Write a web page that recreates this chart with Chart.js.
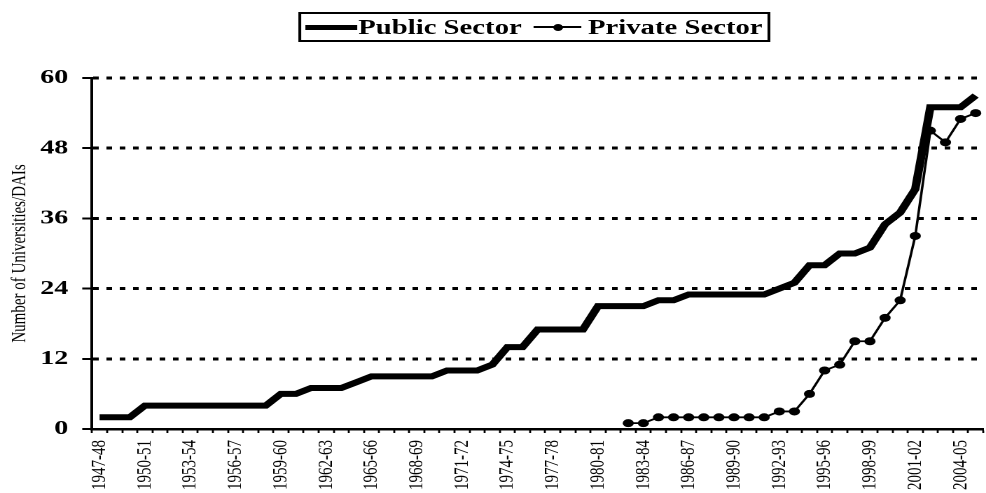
<!DOCTYPE html>
<html>
<head>
<meta charset="utf-8">
<script src="https://cdn.jsdelivr.net/npm/chart.js@4"></script>
<style>
  html, body { margin: 0; padding: 0; background: #fff; overflow: hidden; width: 986px; height: 493px; }
  #stage { position: absolute; left: 0; top: 0; width: 706px; height: 493px; transform: scaleX(1.4006); transform-origin: 0 0; }
  #chart { position: absolute; left: 0; top: 0; }
  #legend { position: absolute; left: 212.8px; top: 12px; width: 333px; height: 26px; border: 2px solid #000;
            font-family: "Liberation Serif", "Times New Roman", serif; font-weight: bold; font-size: 20.5px; color: #000; }
  #legend .txt { position: absolute; top: 0; line-height: 26px; white-space: nowrap; }
  #legend .ln { position: absolute; background: #000; }
  #legend .dot { position: absolute; background: #000; border-radius: 50%; }
</style>
</head>
<body>
<div id="stage">
  <canvas id="chart" width="706" height="493"></canvas>
  <div id="legend">
    <div class="ln" style="left:3px; top:10.5px; width:37px; height:5px;"></div>
    <div class="txt" style="left:41px;">Public Sector</div>
    <div class="ln" style="left:166px; top:12px; width:34px; height:2px;"></div>
    <div class="dot" style="left:180.3px; top:9.5px; width:7px; height:7px;"></div>
    <div class="txt" style="left:205px;">Private Sector</div>
  </div>
</div>
<script>
const years = ['1947-48','1948-49','1949-50','1950-51','1951-52','1952-53','1953-54','1954-55','1955-56','1956-57',
  '1957-58','1958-59','1959-60','1960-61','1961-62','1962-63','1963-64','1964-65','1965-66','1966-67',
  '1967-68','1968-69','1969-70','1970-71','1971-72','1972-73','1973-74','1974-75','1975-76','1976-77',
  '1977-78','1978-79','1979-80','1980-81','1981-82','1982-83','1983-84','1984-85','1985-86','1986-87',
  '1987-88','1988-89','1989-90','1990-91','1991-92','1992-93','1993-94','1994-95','1995-96','1996-97',
  '1997-98','1998-99','1999-00','2000-01','2001-02','2002-03','2003-04','2004-05','2005-06'];

const xTickLabels = ['1947-48','1950-51','1953-54','1956-57','1959-60','1962-63','1965-66','1968-69','1971-72',
  '1974-75','1977-78','1980-81','1983-84','1986-87','1989-90','1992-93','1995-96','1998-99','2001-02','2004-05'];

const yTicks = [0, 12, 24, 36, 48, 60];

const publicSector = [2,2,2,4,4,4,4,4,4,4,
  4,4,6,6,7,7,7,8,9,9,
  9,9,9,10,10,10,11,14,14,17,
  17,17,17,21,21,21,21,22,22,23,
  23,23,23,23,23,24,25,28,28,30,
  30,31,35,37,41,55,55,55,57];

const privateSector = [null,null,null,null,null,null,null,null,null,null,
  null,null,null,null,null,null,null,null,null,null,
  null,null,null,null,null,null,null,null,null,null,
  null,null,null,null,null,1,1,2,2,2,
  2,2,2,2,2,3,3,6,10,11,
  15,15,19,22,33,51,49,53,54];

const serif = '"Liberation Serif", "Times New Roman", serif';

new Chart(document.getElementById('chart'), {
  type: 'line',
  data: {
    labels: years,
    datasets: [
      { label: 'Public Sector', data: publicSector, borderColor: '#000', backgroundColor: '#000',
        borderWidth: 6, pointRadius: 0, tension: 0, order: 1 },
      { label: 'Private Sector', data: privateSector, borderColor: '#000', backgroundColor: '#000',
        borderWidth: 1.8, pointRadius: 4, pointBorderWidth: 0, pointBackgroundColor: '#000',
        tension: 0, spanGaps: false, order: 0 }
    ]
  },
  options: {
    responsive: false,
    animation: false,
    devicePixelRatio: 2,
    layout: { padding: { top: 78, left: 0, right: 0, bottom: 0 } },
    plugins: { legend: { display: false }, tooltip: { enabled: false } },
    scales: {
      x: {
        type: 'category',
        offset: true,
        grid: { display: true, drawOnChartArea: false, drawTicks: true, tickLength: 4, offset: true,
                color: '#000', tickColor: '#000', tickWidth: 1.4, tickBorderDash: [] },
        border: { display: true, color: '#000', width: 2.5 },
        ticks: {
          autoSkip: false, maxRotation: 90, minRotation: 90, padding: 7, color: '#000',
          font: { family: serif, size: 15 },
          callback: function (v, i) { const lab = years[i]; return xTickLabels.includes(lab) ? lab : ''; }
        },
        afterFit: function (s) { s.height = 64; s.paddingLeft = 0; s.paddingRight = 0; }
      },
      y: {
        min: 0, max: 60,
        afterBuildTicks: function (s) { s.ticks = yTicks.map(v => ({ value: v })); },
        ticks: { padding: 10, color: '#000', font: { family: serif, size: 20, weight: 'bold' } },
        grid: {
          color: function (c) { return (c.tick && c.tick.value === 0) ? 'rgba(0,0,0,0)' : '#000'; },
          lineWidth: 3, drawTicks: true, tickLength: 7, tickColor: '#000', tickWidth: 2, tickBorderDash: []
        },
        border: { display: true, color: '#000', width: 2, dash: [4, 5.5] },
        title: { display: true, text: 'Number of Universities/DAIs', color: '#000',
                 font: { family: serif, size: 15 }, padding: { top: 5, bottom: 0 } },
        afterFit: function (s) { s.width = 65.7; s.paddingTop = 0; s.paddingBottom = 0; }
      }
    }
  }
});
</script>
</body>
</html>
